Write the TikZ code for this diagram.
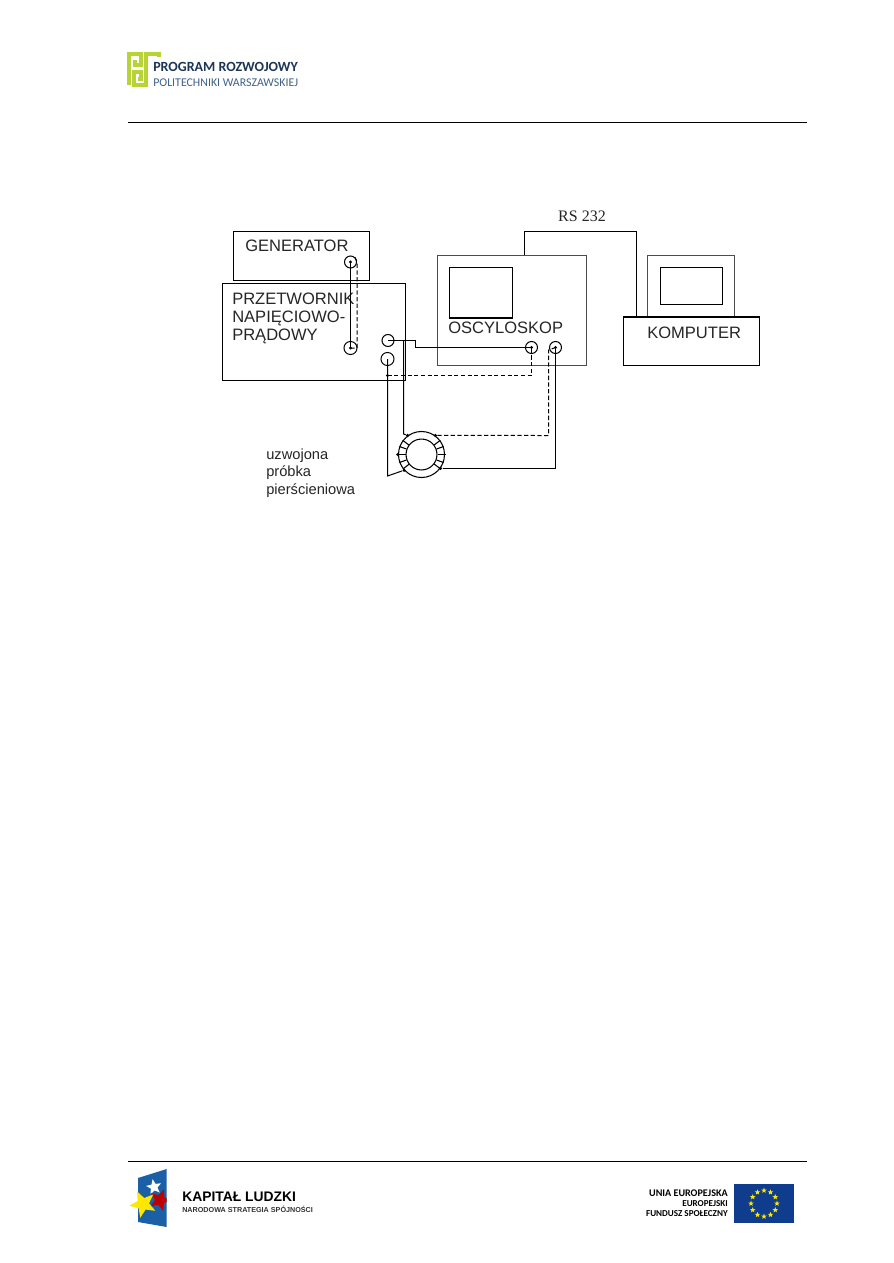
\documentclass[tikz,border=0pt]{standalone}
\usepackage{fontspec}
\setmainfont{Liberation Sans}
\newfontfamily\serifrm{Liberation Serif}
\newfontfamily\logofont{Carlito}
\usetikzlibrary{shapes.geometric,calc}
\definecolor{logogreen}{HTML}{B7D335}
\definecolor{logonavy}{HTML}{1D3557}
\definecolor{logoblue}{HTML}{3F6288}
\definecolor{eublue}{HTML}{0F3C8C}
\definecolor{plblue}{HTML}{1B5FA6}
\tikzset{
  x=0.75pt,y=-0.75pt,
  box/.style={draw=black,line width=0.75pt,fill=none,inner sep=0pt},
  greybox/.style={draw=black!70,line width=0.75pt,inner sep=0pt},
  wire/.style={draw=black,line width=0.75pt},
  dashwire/.style={draw=black,line width=0.75pt,dash pattern=on 3.2pt off 1.8pt},
  term/.style={circle,draw=black,line width=0.75pt,minimum size=9pt,inner sep=0pt},
  lbl/.style={anchor=base west,inner sep=0pt,font=\fontsize{12.4pt}{14pt}\selectfont,text=black!85},
  sm/.style={anchor=base west,inner sep=0pt,font=\fontsize{11pt}{13pt}\selectfont,text=black!85},
  dot/.style={fill=black,circle,inner sep=0pt,minimum size=2.6pt},
  euname/.style={anchor=base east,inner sep=0pt,font=\logofont\bfseries\fontsize{6.8pt}{8pt}\selectfont,text=black},
  eustar/.style={star,star points=5,star point ratio=2.4,fill=yellow!90!orange,inner sep=0pt,minimum size=4.4pt},
  grn/.style={draw=logogreen,line width=2.3pt,line join=miter,line cap=butt},
}
\begin{document}
\begin{tikzpicture}
\useasboundingbox[fill=white] (0,0) rectangle (893,1263);

% header and footer
\draw[black,line width=0.75pt] (128,122.5) -- (807,122.5);
\draw[black,line width=0.75pt] (128,1161.5) -- (807,1161.5);

% top logo
\draw[grn] (129,85) -- (129,54) -- (141,54) -- (141,65) -- (135,65) -- (135,60);
\draw[grn] (159,57) -- (159,54) -- (146,54) -- (146,85) -- (134,85) -- (134,72) -- (141,72) -- (141,79) -- (138,79);
\node[anchor=base west,inner sep=0pt,font=\logofont\bfseries\fontsize{10.5pt}{12pt}\selectfont,text=logonavy] (prog) at (153,71) {PROGRAM ROZWOJOWY};
\node[anchor=base west,inner sep=0pt,font=\logofont\fontsize{8.9pt}{10pt}\selectfont,text=logoblue] (poli) at (153,86.5) {POLITECHNIKI WARSZAWSKIEJ};

% apparatus boxes
\node[box,minimum width=102pt,minimum height=36.75pt] (gen) at (301.5,256) {};
\node[box,minimum width=137.25pt,minimum height=72.75pt] (prz) at (314,332) {};
\node[greybox,minimum width=111.75pt,minimum height=82.5pt] (osc) at (512,310.5) {};
\node[box,minimum width=47.25pt,minimum height=37.5pt] (scr) at (481,292.5) {};
\draw[black,line width=1.4pt] (scr.south west) -- (scr.south east);
\node[greybox,minimum width=65.25pt,minimum height=46.5pt] (mon) at (691,286.5) {};
\node[box,minimum width=46.5pt,minimum height=27.75pt] (mscr) at (691.5,286) {};
\node[box,minimum width=102pt,minimum height=36pt] (kom) at (691.5,341.5) {};
\draw[black,line width=1.6pt] (kom.north west) -- (kom.north east);

% labels
\node[lbl] (tgen) at (245,251) {GENERATOR};
\node[lbl] (tp1) at (232,304) {PRZETWORNIK};
\node[lbl] (tp2) at (232,322.5) {NAPIĘCIOWO-};
\node[lbl] (tp3) at (232,340.5) {PRĄDOWY};
\node[lbl] (tosc) at (448,333) {OSCYLOSKOP};
\node[lbl] (tkom) at (647,338) {KOMPUTER};
\node[sm] (t1) at (266,459) {uzwojona};
\node[sm] (t2) at (266,476.5) {próbka};
\node[sm] (t3) at (266,494) {pierścieniowa};
\node[anchor=base,inner sep=0pt,font=\serifrm\fontsize{12pt}{13pt}\selectfont,text=black!85] (trs) at (582,221.5) {RS 232};

% terminals
\node[term] (g1) at (350.5,262) {};
\node[term,minimum size=9.8pt] (p1) at (350.5,348) {};
\node[term] (c1) at (388,340.5) {};
\node[term,minimum size=9.8pt] (c2) at (387.5,359) {};
\node[term] (o1) at (531.5,347.5) {};
\node[term] (o2) at (555.5,347.5) {};

% ring sample
\node[circle,draw=black,line width=0.8pt,minimum size=34.5pt,inner sep=0pt] (ring) at (421.5,454.5) {};
\node[circle,draw=black,line width=0.8pt,minimum size=23.2pt,inner sep=0pt] (core) at (421.5,454.5) {};
\foreach \a in {143,160,180,200,218,37,20,0,-20,-37}
  \draw[black,line width=0.8pt] (core.\a) -- (ring.\a);
\foreach \a/\b in {126/w1,54/w2,-36/w3,222/w4,180/w5}
  \node[dot] (\b) at (ring.\a) {};
\draw[black,line width=1.1pt] ([xshift=-1pt]ring.180) -- (core.180);
\draw[black,line width=1.1pt] ([xshift=1pt]ring.0) -- (core.0);

% connectors
\coordinate (a1) at (415.5,340.5);
\coordinate (a2) at (415.5,347.5);
\coordinate (j1) at (403.5,340.5);
\coordinate (j2) at (403.5,434);
\coordinate (k1) at (387.5,476);
\coordinate (d1) at (387.5,375.5);
\coordinate (d2) at (531.5,375.5);
\coordinate (d3) at (548.5,435.5);
\coordinate (d4) at (548.5,350);
\coordinate (r1) at (524.5,231.5);
\coordinate (r2) at (636.5,231.5);

\draw[wire] (g1.center) -- (p1.center);
\draw[dashwire] (g1.north east) -- (g1.east) -- (g1.east |- p1.center) -- (p1.center);
\draw[wire] (c1.center) -- (a1) -- (a2) -- (o1.center);
\draw[wire] (j1) -- (j2) -- (w1);
\draw[wire] (c2.center) -- (k1) -- (w4);
\draw[dashwire] (d1) -- (d2) -- (o1.center);
\draw[dashwire] (w2) -- (d3) -- (d4) -- (o2.center);
\draw[wire] (w3) -- (w3 -| o2.center) -- (o2.center);
\draw[wire] (r1 |- osc.north) -- (r1) -- (r2) -- (r2 |- kom.north);
\node[dot] (od1) at (o1.center) {};
\node[dot] (od2) at (o2.center) {};
\node[dot] (pd1) at (p1.center) {};
\node[dot] (gd1) at (g1.center) {};
\node[dot] (dd1) at (d1) {};

% bottom left logo
\begin{scope}
\path[clip] (130,1160) rectangle (166.7,1235);
\fill[plblue] (138,1178) -- (166.7,1169) -- (166.7,1227) -- (138,1222) -- cycle;
\node[star,star points=5,star point ratio=2.3,fill=white,inner sep=0pt,minimum size=12pt,rotate=10] (swh) at (154,1187) {};
\node[star,star points=5,star point ratio=2.3,fill=red!75!black,inner sep=0pt,minimum size=17pt,rotate=-20] (srd) at (160,1200) {};
\node[star,star points=5,star point ratio=2.3,fill=yellow!90!orange,inner sep=0pt,minimum size=21pt,rotate=25] (syl) at (143,1204) {};
\end{scope}
\node[anchor=base west,inner sep=0pt,font=\bfseries\fontsize{10.4pt}{12pt}\selectfont,text=black] (kap) at (182,1201.5) {KAPITAŁ LUDZKI};
\node[anchor=base west,inner sep=0pt,font=\bfseries\fontsize{5.4pt}{6pt}\selectfont,text=black!80] (nar) at (182,1212) {NARODOWA STRATEGIA SPÓJNOŚCI};

% bottom right logo
\node[euname,font=\logofont\bfseries\fontsize{7.6pt}{8pt}\selectfont] (u1) at (728,1196) {UNIA EUROPEJSKA};
\node[euname] (u2) at (728,1206) {EUROPEJSKI};
\node[euname] (u3) at (728,1216) {FUNDUSZ SPOŁECZNY};
\node[fill=eublue,minimum width=45pt,minimum height=29.5pt,inner sep=0pt] (flag) at (764,1203.5) {};
\foreach \i in {0,30,...,330}
  \node[eustar] (eu\i) at ($(flag.center)+(\i:13)$) {};
\end{tikzpicture}
\end{document}
